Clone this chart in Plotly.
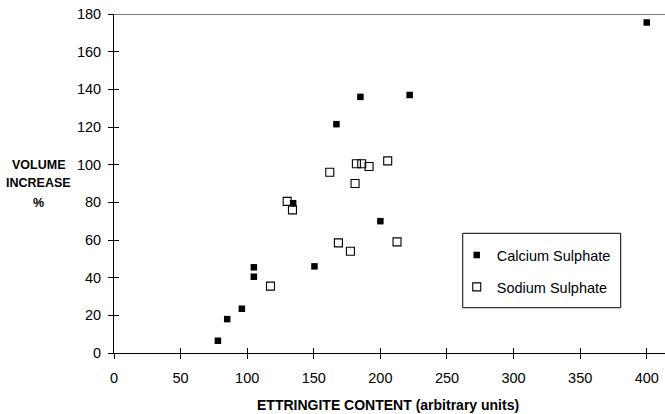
import plotly.graph_objects as go

calcium_x = [78, 85, 96, 105, 105, 134.5, 150.5, 167, 185, 222, 200, 400]
calcium_y = [6.5, 18, 23.5, 45.5, 40.5, 79.5, 46, 121.5, 136, 137, 70, 175.5]

sodium_x = [117.5, 130, 134, 162, 168.5, 177.5, 181, 182, 186, 191.5, 205.5, 212.5]
sodium_y = [35.5, 80.5, 76, 96, 58.5, 54, 90, 100.5, 100.5, 99, 102, 59]

x_ticks = [0, 50, 100, 150, 200, 250, 300, 350, 400]
y_ticks = [0, 20, 40, 60, 80, 100, 120, 140, 160, 180]

FONT = "Liberation Sans, Arial, sans-serif"
X_MAX = 413.7

fig = go.Figure()
fig.add_trace(go.Scatter(
    x=calcium_x, y=calcium_y, mode="markers", name="Calcium Sulphate",
    legendgroup="a",
    marker=dict(symbol="square", size=6.5, color="black", line=dict(width=0)),
))
fig.add_trace(go.Scatter(
    x=sodium_x, y=sodium_y, mode="markers", name="Sodium Sulphate",
    legendgroup="b",
    marker=dict(symbol="square-open", size=8, color="black", line=dict(width=1.1)),
))

fig.update_layout(
    width=665, height=414,
    margin=dict(l=114, r=0, t=14, b=61),
    paper_bgcolor="white", plot_bgcolor="white",
    font=dict(family=FONT, size=14.5, color="black"),
    showlegend=True,
    legend=dict(
        x=0.622, y=0.336, xanchor="left", yanchor="top",
        borderwidth=0, bgcolor="rgba(0,0,0,0)",
        font=dict(size=14.5), tracegroupgap=10, itemsizing="trace",
    ),
    xaxis=dict(
        range=[0, X_MAX], tickvals=x_ticks, showgrid=False, zeroline=False,
        showline=True, linecolor="black", linewidth=1,
        ticks="outside", ticklen=5, tickcolor="black", tickfont=dict(size=14.5),
        ticklabelstandoff=7,
    ),
    yaxis=dict(
        range=[0, 180], tickvals=y_ticks, showgrid=False, zeroline=False,
        showline=True, linecolor="black", linewidth=1,
        ticks="outside", ticklen=5, tickcolor="black", tickfont=dict(size=14.5),
        ticklabelstandoff=4,
    ),
    xaxis2=dict(
        overlaying="x", range=[0, X_MAX], tickvals=x_ticks, showticklabels=False,
        ticks="inside", ticklen=5, tickcolor="black", showgrid=False, zeroline=False,
        showline=False, side="bottom",
    ),
    yaxis2=dict(
        overlaying="y", range=[0, 180], tickvals=y_ticks, showticklabels=False,
        ticks="inside", ticklen=5, tickcolor="black", showgrid=False, zeroline=False,
        showline=False, side="left",
    ),
)

# invisible helper trace so the overlay axes (inside tick halves) are drawn
fig.add_trace(go.Scatter(x=[0], y=[0], xaxis="x2", yaxis="y2", mode="markers",
                         marker=dict(opacity=0), showlegend=False, hoverinfo="skip"))

# top border line
fig.add_shape(type="line", xref="paper", yref="y", x0=0, x1=1, y0=180, y1=180,
              line=dict(color="black", width=1))

# legend frame
fig.add_shape(type="rect", xref="paper", yref="paper",
              x0=0.6329, x1=0.9196, y0=0.1336, y1=0.3531,
              line=dict(color="black", width=1), fillcolor="rgba(0,0,0,0)")

fig.add_annotation(
    text="<b>ETTRINGITE CONTENT (arbitrary units)</b>",
    xref="paper", yref="paper", x=0.497, y=-0.1534, showarrow=False,
    xanchor="center", yanchor="middle", font=dict(size=14),
)
for txt, yy in [("VOLUME", 0.5546), ("INCREASE", 0.5015), ("%", 0.4425)]:
    fig.add_annotation(
        text=f"<b>{txt}</b>",
        xref="paper", yref="paper", x=-0.1379, y=yy, showarrow=False,
        xanchor="center", yanchor="middle", font=dict(size=12.5),
    )

fig.write_html("out.html", config={"displayModeBar": False},
               post_script="document.body.style.margin='0';")
